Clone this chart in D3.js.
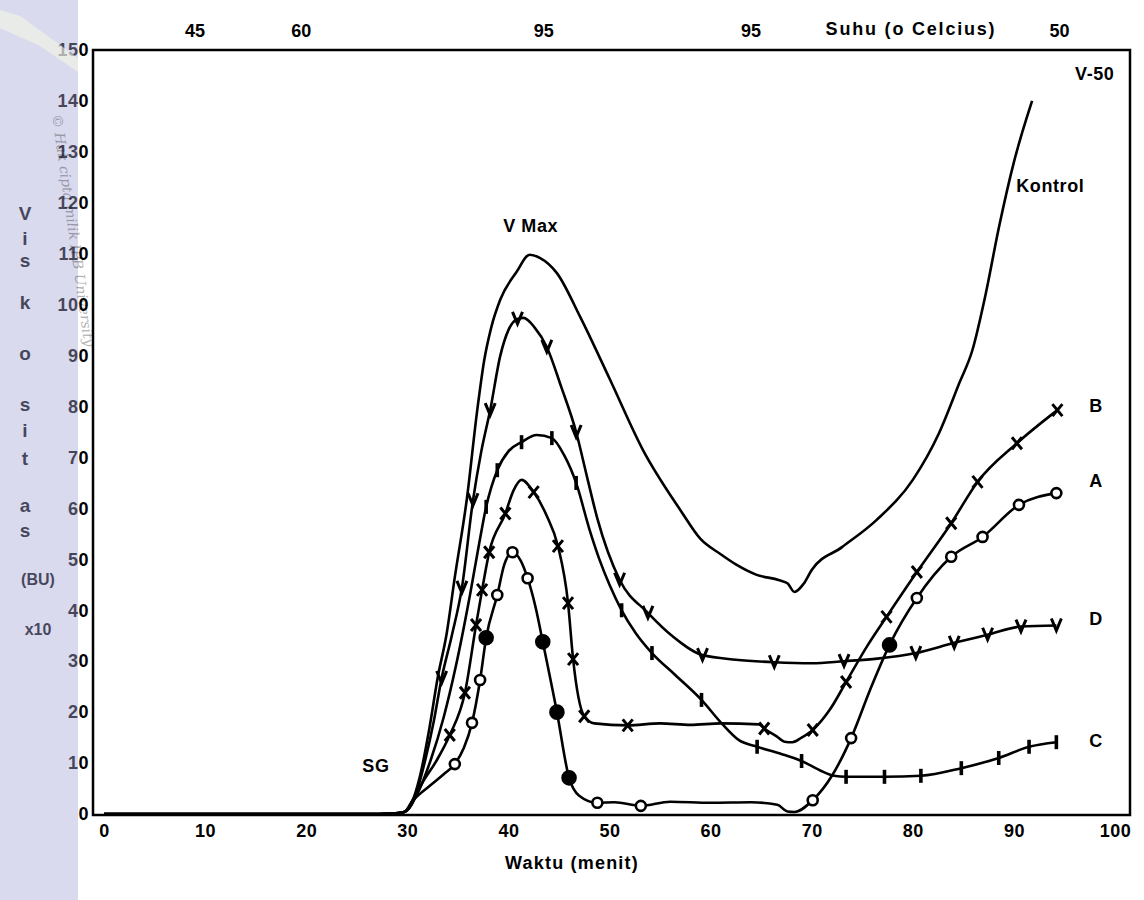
<!DOCTYPE html>
<html>
<head>
<meta charset="utf-8">
<script src="https://cdn.jsdelivr.net/npm/d3@7"></script>
<style>
  body { margin: 0; background: #fff; }
  svg text { font-family: 'Liberation Sans', Arial, sans-serif; font-weight: bold; fill: #000; }
</style>
</head>
<body>
<svg id="chart" width="1144" height="900"></svg>
<script>
// ---- data ----
const timeTicks = [0, 10, 20, 30, 40, 50, 60, 70, 80, 90, 100];
const viscTicks = [0, 10, 20, 30, 40, 50, 60, 70, 80, 90, 100, 110, 120, 130, 140, 150];
const tempTimes = [9, 19.5, 43.5, 64, 94.5];
const tempLabels = ['45', '60', '95', '95', '50'];
const yTitle = ['V', 'i', 's', 'k', 'o', 's', 'i', 't', 'a', 's', '(BU)', 'x10'];

// [time, viscosity]
const kontrol = [
  [0, 0], [26, 0], [28.5, 0.1], [29.7, 0.4], [30.5, 2.5], [31.2, 7], [32.2, 17], [33.0, 26.7],
  [33.9, 35.5], [34.7, 46.5], [35.9, 62], [36.9, 79], [37.6, 89], [38.3, 95.5], [39.2, 101],
  [40.8, 106.4], [42.1, 109.8], [43.1, 109.2], [44.8, 106.2], [47.1, 97.6], [50, 85.5],
  [53.3, 71.5], [57, 59.7], [59, 54], [61, 51], [62.5, 49], [64.5, 47], [66.8, 45.9],
  [67.6, 45.3], [68.3, 43.6], [69.2, 45.2], [70, 47.9], [73, 52.4], [76.4, 57.7], [80, 65.6],
  [82.6, 74.8], [84.6, 84.6], [85.9, 91.1], [87.2, 102], [88.5, 115], [90, 128], [91.8, 140]
];

// [time, viscosity, marker] marker: 1 = symbol, 2 = filled dot
const seriesD = [
  [0, 0], [26, 0], [28.5, 0.1], [29.7, 0.4], [30.7, 3], [31.7, 10], [32.6, 18], [33.4, 26.7, 1],
  [34.4, 35], [35.4, 44.4, 1], [36.5, 61.6, 1], [37.3, 71], [38.2, 79.3, 1], [39.2, 90],
  [40, 95], [40.9, 97.2, 1], [41.5, 97.4], [42.6, 95.5], [43.8, 91.7, 1], [45.2, 84],
  [46.7, 75, 1], [47.8, 66], [48.8, 58], [51, 46, 1], [53.8, 39.5, 1], [56.3, 34.8],
  [59.2, 31.2, 1], [62.5, 30.3], [66.3, 29.8, 1], [70, 29.6], [73.2, 30, 1], [76.5, 30.5],
  [80.3, 31.6, 1], [84.1, 33.6, 1], [87.4, 35.2, 1], [90.7, 36.8, 1], [94.2, 37, 1]
];

const seriesC = [
  [0, 0], [26, 0], [28.5, 0.1], [29.7, 0.4], [31, 4], [32.3, 10.5], [33.6, 19], [34.8, 29],
  [36.2, 43], [37.1, 53], [37.8, 60.3, 1], [38.9, 67.5, 1], [40, 71.2], [41.3, 73, 1],
  [42.8, 74.4], [44.3, 73.8, 1], [45.5, 70.5], [46.7, 65, 1], [48, 56], [49, 50], [50, 45],
  [51.2, 40, 1], [52.6, 35.5], [54.2, 31.6, 1], [56.5, 27.3], [59.1, 22.4, 1], [61, 18],
  [62.8, 14.5], [64.6, 13.2, 1], [67, 11.8], [69, 10.4, 1], [70.8, 8.6], [72.2, 7.5],
  [73.4, 7.3, 1], [77.2, 7.3, 1], [80.8, 7.5, 1], [84.8, 9, 1], [88.5, 11, 1], [91.5, 13.2, 1],
  [94.2, 14.1, 1]
];

const seriesB = [
  [0, 0], [26, 0], [28.5, 0.1], [29.7, 0.4], [30.6, 3], [31.6, 6.5], [32.9, 10.5], [34.2, 15.5, 1],
  [35.7, 23.8, 1], [36.8, 37.1, 1], [37.4, 44, 1], [38.1, 51.4, 1], [39.7, 59, 1], [40.5, 63.5],
  [41.3, 65.6], [42.5, 63.2, 1], [43.8, 58.5], [44.9, 52.6, 1], [45.9, 41.4, 1], [46.4, 30.4, 1],
  [47.5, 19.2, 1], [48.5, 17.8], [51.8, 17.4, 1], [55, 17.8], [58, 17.5], [61, 17.8],
  [64.8, 17.6], [65.3, 16.8, 1], [66.5, 15.3], [67.3, 14.2], [68.1, 14.1], [69, 15],
  [70.1, 16.5, 1], [71.8, 20.5], [73.4, 25.9, 1], [75.5, 33], [77.4, 38.7, 1], [80.4, 47.5, 1],
  [83.8, 57.1, 1], [86.4, 65.2, 1], [90.3, 72.8, 1], [94.3, 79.3, 1]
];

const seriesA = [
  [0, 0], [26, 0], [28.5, 0.1], [29.7, 0.4], [30.5, 2.5], [32.2, 5.5], [33.6, 7.8], [34.7, 9.8, 1],
  [35.6, 13], [36.4, 17.9, 1], [37.2, 26.3, 1], [37.8, 34.6, 2], [38.9, 43, 1], [39.6, 49],
  [40.4, 51.4, 1], [41.2, 49.8], [41.9, 46.3, 1], [42.7, 40.5], [43.4, 33.8, 2], [44.8, 20, 2],
  [46.0, 7.1, 2], [47.0, 3.6], [48.8, 2.2, 1], [50.5, 2.3], [53.1, 1.6, 1], [56, 2.4], [60, 2.2],
  [64, 2.3], [66.6, 1.8], [67.6, 0.5], [68.3, 0.4], [70.1, 2.7, 1], [72, 7.5], [73.9, 14.9, 1],
  [75.8, 24.5], [77.7, 33.2, 2], [80.4, 42.4, 1], [83.8, 50.5, 1], [86.9, 54.4, 1],
  [90.5, 60.7, 1], [94.2, 63, 1]
];

const seriesNames = ['B', 'A', 'D', 'C'];
const seriesData = [seriesB, seriesA, seriesD, seriesC];
const seriesMarkers = ['x', 'o', 'v', 'bar'];

// ---- layout ----
const svg = d3.select('#chart');
const frame = { left: 93, right: 1130, top: 50, bottom: 815 };
const x = d3.scaleLinear().domain([0, 100]).range([104, 1115]);
const y = d3.scaleLinear().domain([0, 150]).range([814, 50]);
const labelDy = { B: -5, A: -13, D: -8, C: -2 };

const line = d3.line()
  .x((d) => x(d[0]))
  .y((d) => y(d[1]))
  .curve(d3.curveMonotoneX);

const drawFrame = () => {
  svg.append('rect')
    .attr('x', frame.left).attr('y', frame.top)
    .attr('width', frame.right - frame.left)
    .attr('height', frame.bottom - frame.top)
    .attr('fill', 'none')
    .attr('stroke', '#000')
    .attr('stroke-width', 2.5);
}

const drawAxes = () => {
  const bottom = svg.append('g')
    .attr('transform', 'translate(0,' + frame.bottom + ')')
    .call(d3.axisBottom(x).tickValues(timeTicks).tickSize(0).tickPadding(9));
  const left = svg.append('g')
    .attr('transform', 'translate(' + frame.left + ',0)')
    .call(d3.axisLeft(y).tickValues(viscTicks).tickSize(0).tickPadding(4));
  [bottom, left].forEach((g) => {
    g.select('.domain').remove();
    g.selectAll('text')
      .style('font-family', "'Liberation Sans', Arial, sans-serif")
      .style('font-weight', 'bold')
      .style('font-size', '18px')
      .style('letter-spacing', '0.5px')
      .attr('fill', '#000');
  });

  svg.append('text')
    .attr('x', 572).attr('y', 869)
    .attr('text-anchor', 'middle')
    .style('font-size', '18px')
    .style('letter-spacing', '1.2px')
    .text('Waktu (menit)');

  // temperature marks along the top
  svg.selectAll('text.temp')
    .data(tempTimes)
    .enter().append('text')
    .attr('class', 'temp')
    .attr('x', (d) => x(d))
    .attr('y', 37)
    .attr('text-anchor', 'middle')
    .style('font-size', '18px')
    .text((d, i) => tempLabels[i]);

  svg.append('text')
    .attr('x', 911).attr('y', 35)
    .attr('text-anchor', 'middle')
    .style('font-size', '18px')
    .style('letter-spacing', '1.8px')
    .text('Suhu (o Celcius)');

  // stacked axis title
  const titleY = [213, 238, 260, 302, 353, 404, 430, 458, 505, 530, 578, 628];
  svg.selectAll('text.ytitle')
    .data(yTitle)
    .enter().append('text')
    .attr('class', 'ytitle')
    .attr('x', (d) => d.length > 1 ? 38 : 25)
    .attr('y', (d, i) => titleY[i] + 7)
    .attr('text-anchor', 'middle')
    .style('font-size', (d) => d.length > 1 ? '16px' : '19px')
    .text((d) => d);
}

const drawCurves = () => {
  const all = [kontrol].concat(seriesData);
  svg.selectAll('path.curve')
    .data(all)
    .enter().append('path')
    .attr('class', 'curve')
    .attr('d', line)
    .attr('fill', 'none')
    .attr('stroke', '#000')
    .attr('stroke-width', 2.6)
    .attr('stroke-linejoin', 'round');
}

const markerPath = {
  x: 'M-5,-6L5,6M5,-6L-5,6',
  v: 'M-5,-7L0,5L5,-7',
  bar: 'M0,-7L0,7'
};

const drawMarkers = () => {
  seriesData.forEach((points, i) => {
    const type = seriesMarkers[i];
    const marked = points.filter((d) => d[2]);
    const g = svg.append('g').attr('class', 'markers-' + seriesNames[i]);
    if (type === 'o') {
      g.selectAll('circle')
        .data(marked)
        .enter().append('circle')
        .attr('cx', (d) => x(d[0]))
        .attr('cy', (d) => y(d[1]))
        .attr('r', (d) => d[2] === 2 ? 6.5 : 5)
        .attr('fill', (d) => d[2] === 2 ? '#000' : '#fff')
        .attr('stroke', '#000')
        .attr('stroke-width', 2.6);
    } else {
      g.selectAll('path')
        .data(marked)
        .enter().append('path')
        .attr('transform', (d) => 'translate(' + x(d[0]) + ',' + y(d[1]) + ')')
        .attr('d', markerPath[type])
        .attr('fill', 'none')
        .attr('stroke', '#000')
        .attr('stroke-width', type === 'bar' ? 3.6 : 3);
    }
  });
}

const drawLabels = () => {
  seriesData.forEach((points, i) => {
    const last = points[points.length - 1];
    svg.append('text')
      .attr('x', x(98.1))
      .attr('y', y(last[1]) + labelDy[seriesNames[i]] + 7)
      .attr('text-anchor', 'middle')
      .style('font-size', '18px')
      .text(seriesNames[i]);
  });
  const notes = [
    { text: 'Kontrol', t: 93.6, v: 123.5 },
    { text: 'V-50', t: 98, v: 145.5 },
    { text: 'V Max', t: 42.2, v: 115.6 },
    { text: 'SG', t: 26.9, v: 9.6 }
  ];
  svg.selectAll('text.note')
    .data(notes)
    .enter().append('text')
    .attr('class', 'note')
    .attr('x', (d) => x(d.t))
    .attr('y', (d) => y(d.v) + 7)
    .attr('text-anchor', 'middle')
    .style('font-size', '18px')
    .style('letter-spacing', '0.6px')
    .text((d) => d.text);
}

const drawWatermark = () => {
  svg.append('rect')
    .attr('x', 0).attr('y', 0)
    .attr('width', 78).attr('height', 900)
    .attr('fill', '#a8a8da')
    .attr('opacity', 0.42);
  svg.append('path')
    .attr('d', 'M0,10 L20,16 L78,58 L78,72 L40,46 L0,28 Z')
    .attr('fill', '#f3f6e4')
    .attr('opacity', 0.6);
  svg.append('text')
    .attr('transform', 'translate(52,115) rotate(82)')
    .style('font-family', "'DejaVu Serif', serif")
    .style('font-style', 'italic')
    .style('font-weight', 'normal')
    .style('font-size', '14px')
    .attr('fill', '#fff')
    .attr('opacity', 0.3)
    .text('© Hak cipta milik IPB University');
}

drawFrame();
drawAxes();
drawCurves();
drawMarkers();
drawLabels();
drawWatermark();
</script>
</body>
</html>
